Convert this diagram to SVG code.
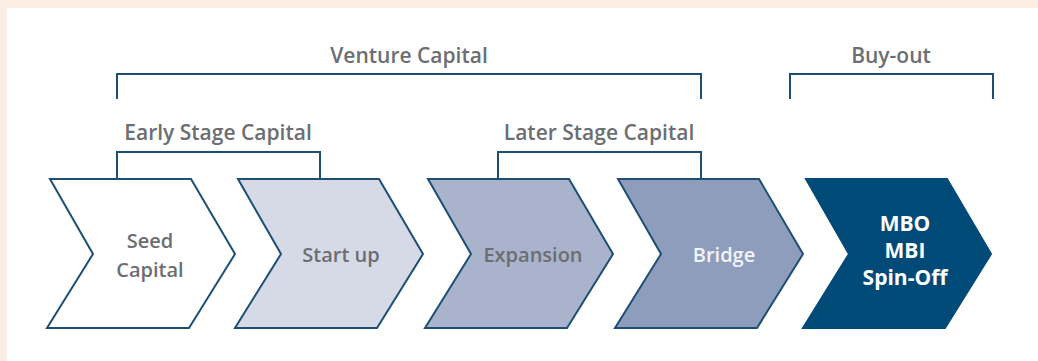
<svg xmlns="http://www.w3.org/2000/svg" width="1038" height="361" viewBox="0 0 1038 361">
  <style>
    .lbl { font-family: "Open Sans", "Liberation Sans", sans-serif; font-weight: 600; font-size: 21px; fill: #6b6e72; text-anchor: middle; }
    .in { font-family: "Open Sans", "Liberation Sans", sans-serif; font-weight: 600; font-size: 20px; text-anchor: middle; }
    .big { font-size: 21px; font-weight: 700; }
    .chev { stroke: #1d4f74; stroke-width: 2; stroke-linejoin: miter; }
    .br { fill: none; stroke: #1d4f74; stroke-width: 2; }
  </style>
  <defs>
    <!-- chevron with its top-left corner at the origin -->
    <polygon id="chev" points="0,0 141,0 185,75 139,149 -3,149 43,75"/>
  </defs>

  <!-- page background -->
  <rect x="0" y="0" width="1038" height="361" fill="#fbede1"/>
  <rect x="7" y="8" width="1031" height="353" fill="#ffffff"/>

  <!-- brackets -->
  <g id="connectors">
    <path class="br" d="M117,99 V74 H701 V99"/>
    <path class="br" d="M790,99 V74 H993 V99"/>
    <path class="br" d="M117,179 V152 H320 V179"/>
    <path class="br" d="M498,179 V152 H701 V179"/>
  </g>

  <g id="label-venture"><text class="lbl" x="409" y="63">Venture Capital</text></g>
  <g id="label-buyout"><text class="lbl" x="891" y="63">Buy-out</text></g>
  <g id="label-early"><text class="lbl" x="218" y="140">Early Stage Capital</text></g>
  <g id="label-later"><text class="lbl" x="599" y="140">Later Stage Capital</text></g>

  <g id="seed">
    <use href="#chev" x="50" y="179" class="chev" fill="#ffffff"/>
    <text class="in" x="150" y="248" fill="#6b6e72">Seed</text>
    <text class="in" x="150" y="277" fill="#6b6e72">Capital</text>
  </g>
  <g id="startup">
    <use href="#chev" x="238" y="179" class="chev" fill="#d5dae6"/>
    <text class="in" x="341" y="262" fill="#6b6e72">Start up</text>
  </g>
  <g id="expansion">
    <use href="#chev" x="428" y="179" class="chev" fill="#a9b3cb"/>
    <text class="in" x="533" y="262" fill="#6b6e72">Expansion</text>
  </g>
  <g id="bridge">
    <use href="#chev" x="618" y="179" class="chev" fill="#8e9dbc"/>
    <text class="in" x="724" y="262" fill="#f2f4f7">Bridge</text>
  </g>
  <g id="buyout">
    <use href="#chev" x="806" y="179" fill="#004a78" stroke="#004a78" stroke-width="2"/>
    <text class="in big" x="905" y="231" fill="#ffffff">MBO</text>
    <text class="in big" x="905" y="258" fill="#ffffff">MBI</text>
    <text class="in big" x="905" y="285" fill="#ffffff">Spin-Off</text>
  </g>
</svg>
